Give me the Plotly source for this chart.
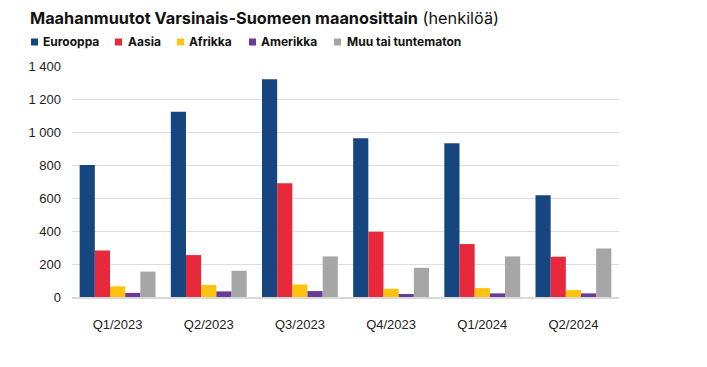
import plotly.graph_objects as go

categories = ["Q1/2023", "Q2/2023", "Q3/2023", "Q4/2023", "Q1/2024", "Q2/2024"]
eurooppa = [800, 1123, 1320, 962, 932, 617]
aasia = [282, 254, 690, 395, 321, 244]
afrikka = [65, 73, 76, 50, 54, 42]
amerikka = [25, 34, 36, 18, 22, 22]
muu = [154, 159, 246, 177, 246, 294]

series_names = ["Eurooppa", "Aasia", "Afrikka", "Amerikka", "Muu tai tuntematon"]
series_values = [eurooppa, aasia, afrikka, amerikka, muu]
colors = ["#15467f", "#e8283b", "#ffc20f", "#6a3a98", "#a6a6a6"]
y_ticks = [0, 200, 400, 600, 800, 1000, 1200, 1400]

OFF = 8  # page body margin
W, H = 707 - OFF, 367 - OFF
ML, MT = 72 - OFF, 66 - OFF
PW, PH = 547, 231
MR = W - ML - PW
MB = H - MT - PH

def px_x(px):
    return (px - OFF - ML) / PW

def px_y(py):
    return (MT + PH - (py - OFF)) / PH

fig = go.Figure()
for name, vals, col in zip(series_names, series_values, colors):
    fig.add_trace(go.Bar(x=categories, y=vals, name=name, marker=dict(color=col, line=dict(width=0)),
                         showlegend=False))

# custom legend (square + bold label)
legend_sq_x = [31, 115, 177, 249, 334]
legend_txt_x = [41, 126, 187, 259, 345]
leg_y = 42
shapes = []
annotations = []
for name, col, sx, tx in zip(series_names, colors, legend_sq_x, legend_txt_x):
    shapes.append(dict(type="rect", xref="paper", yref="paper",
                       x0=px_x(sx), x1=px_x(sx + 7), y0=px_y(leg_y + 3.5), y1=px_y(leg_y - 3.5),
                       fillcolor=col, line=dict(width=0)))
    annotations.append(dict(text="<b>" + name + "</b>", xref="paper", yref="paper",
                            x=px_x(tx), y=px_y(leg_y), xanchor="left", yanchor="middle",
                            showarrow=False, font=dict(family="Inter", size=12, color="#111111")))

fig.update_layout(
    width=W, height=H,
    margin=dict(l=ML, r=MR, t=MT, b=MB, pad=0),
    paper_bgcolor="white", plot_bgcolor="white",
    barmode="group", bargap=0.168, bargroupgap=0,
    separators=", ",
    title=dict(text="<b>Maahanmuutot Varsinais-Suomeen maanosittain</b> (henkilöä)",
               x=(30 - OFF) / W, xref="container", xanchor="left",
               y=1 - (18 - OFF) / H, yref="container", yanchor="middle",
               font=dict(family="Inter", size=16.3, color="#111111")),
    font=dict(family="Liberation Sans", size=13, color="#222222"),
    shapes=shapes, annotations=annotations,
    xaxis=dict(showgrid=False, showline=True, linecolor="#d9d9d9", linewidth=2,
               ticks="", ticklabelstandoff=14, tickfont=dict(size=13, color="#222222")),
    yaxis=dict(range=[0, 1400], tickvals=y_ticks, separatethousands=True,
               showgrid=True, gridcolor="#dedede", gridwidth=1, zeroline=False,
               showline=False, ticks="", ticklabelstandoff=10,
               tickfont=dict(size=13, color="#222222")),
)

fig.write_html("out.html")
